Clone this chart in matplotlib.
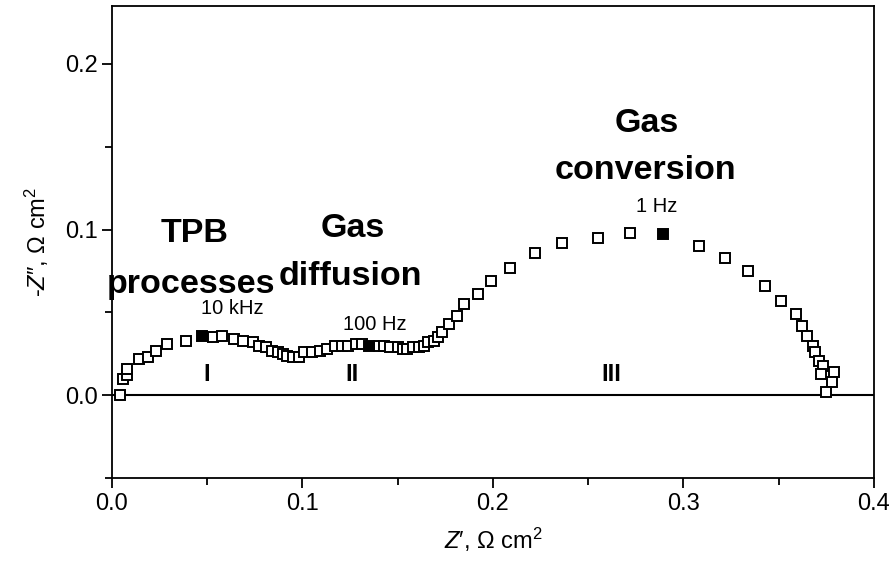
import numpy as np
import matplotlib
matplotlib.use("Agg")
import matplotlib.pyplot as plt
from matplotlib.ticker import MultipleLocator

plt.rcParams['font.family'] = ['Liberation Sans', 'DejaVu Sans']
plt.rcParams['mathtext.fontset'] = 'custom'
plt.rcParams['mathtext.rm'] = 'Liberation Sans'
plt.rcParams['mathtext.it'] = 'Liberation Sans:italic'

# Nyquist data (Z', -Z'' in Ohm cm^2)
z_real = [0.004, 0.006, 0.008, 0.008, 0.014, 0.019, 0.023, 0.029, 0.039, 0.047,
          0.053, 0.058, 0.064, 0.069, 0.074, 0.077, 0.081, 0.084, 0.087, 0.090,
          0.092, 0.095, 0.098, 0.101, 0.105, 0.109, 0.113, 0.117, 0.121, 0.124,
          0.128, 0.131, 0.135, 0.140, 0.143, 0.146, 0.150, 0.153, 0.155, 0.158,
          0.161, 0.164, 0.166, 0.169, 0.171, 0.173, 0.177, 0.181, 0.185, 0.192,
          0.199, 0.209, 0.222, 0.236, 0.255, 0.272, 0.289, 0.308, 0.322, 0.334,
          0.343, 0.351, 0.359, 0.362, 0.365, 0.368, 0.369, 0.371, 0.373, 0.372,
          0.379, 0.378, 0.375]
z_imag = [0.000, 0.010, 0.012, 0.016, 0.022, 0.023, 0.027, 0.031, 0.033, 0.036,
          0.035, 0.036, 0.034, 0.033, 0.032, 0.030, 0.029, 0.027, 0.026, 0.025,
          0.024, 0.023, 0.023, 0.026, 0.026, 0.027, 0.028, 0.030, 0.030, 0.030,
          0.031, 0.031, 0.030, 0.030, 0.030, 0.029, 0.029, 0.028, 0.028, 0.029,
          0.029, 0.030, 0.032, 0.033, 0.035, 0.038, 0.043, 0.048, 0.055, 0.061,
          0.069, 0.077, 0.086, 0.092, 0.095, 0.098, 0.097, 0.090, 0.083, 0.075,
          0.066, 0.057, 0.049, 0.042, 0.036, 0.030, 0.026, 0.021, 0.018, 0.013,
          0.014, 0.008, 0.002]

# frequency markers (filled squares) and their labels
freq_labels = ['10 kHz', '100 Hz', '1 Hz']
freq_idx = [9, 32, 56]
freq_lab_x = [0.063, 0.138, 0.286]
freq_lab_y = [0.0523, 0.043, 0.1137]

# process labels, one entry per line
proc_labels = ['TPB', 'processes', 'Gas', 'diffusion', 'Gas', 'conversion']
proc_x = [0.0436, 0.0415, 0.1265, 0.1249, 0.2808, 0.2798]
proc_y = [0.0973, 0.0669, 0.1009, 0.0717, 0.1641, 0.1355]
roman = ['I', 'II', 'III']
roman_x = [0.0495, 0.126, 0.262]

fig = plt.figure(figsize=(8.93, 5.64), dpi=100)
ax = fig.add_axes([0.1254, 0.152, 0.8533, 0.838])

ax.axhline(0, color='black', lw=1.5, zorder=1)

open_x = [v for i, v in enumerate(z_real) if i not in freq_idx]
open_y = [v for i, v in enumerate(z_imag) if i not in freq_idx]
ax.plot(open_x, open_y, 's', ms=7.5, mfc='white', mec='black', mew=1.4, zorder=3)
ax.plot([z_real[i] for i in freq_idx], [z_imag[i] for i in freq_idx], 's',
        ms=7.5, mfc='black', mec='black', mew=1.4, zorder=4)

for lab, x, y in zip(freq_labels, freq_lab_x, freq_lab_y):
    ax.text(x, y, lab, fontsize=14.5, ha='center', va='center')

for lab, x, y in zip(proc_labels, proc_x, proc_y):
    ax.text(x, y, lab, fontsize=24.5, fontweight='bold', ha='center', va='center')

for lab, x in zip(roman, roman_x):
    ax.text(x, 0.0128, lab, fontsize=17, fontweight='bold', ha='center',
            va='center')

ax.set_xlim(0, 0.4)
ax.set_ylim(-0.05, 0.235)
ax.xaxis.set_major_locator(MultipleLocator(0.1))
ax.xaxis.set_minor_locator(MultipleLocator(0.05))
ax.yaxis.set_major_locator(MultipleLocator(0.1))
ax.yaxis.set_minor_locator(MultipleLocator(0.05))
ax.xaxis.set_major_formatter(plt.FormatStrFormatter('%.1f'))
ax.yaxis.set_major_formatter(plt.FormatStrFormatter('%.1f'))
ax.tick_params(which='both', direction='out', top=False, right=False,
               labelsize=17, width=1.3)
ax.tick_params(which='major', length=7)
ax.tick_params(which='minor', length=5)
for sp in ax.spines.values():
    sp.set_linewidth(1.3)

ax.set_xlabel(r"$Z$′, Ω cm$^2$", fontsize=17, labelpad=8)
ax.set_ylabel(r"-$Z$″, Ω cm$^2$", fontsize=17, labelpad=10)

fig.savefig('out.png', dpi=100)
